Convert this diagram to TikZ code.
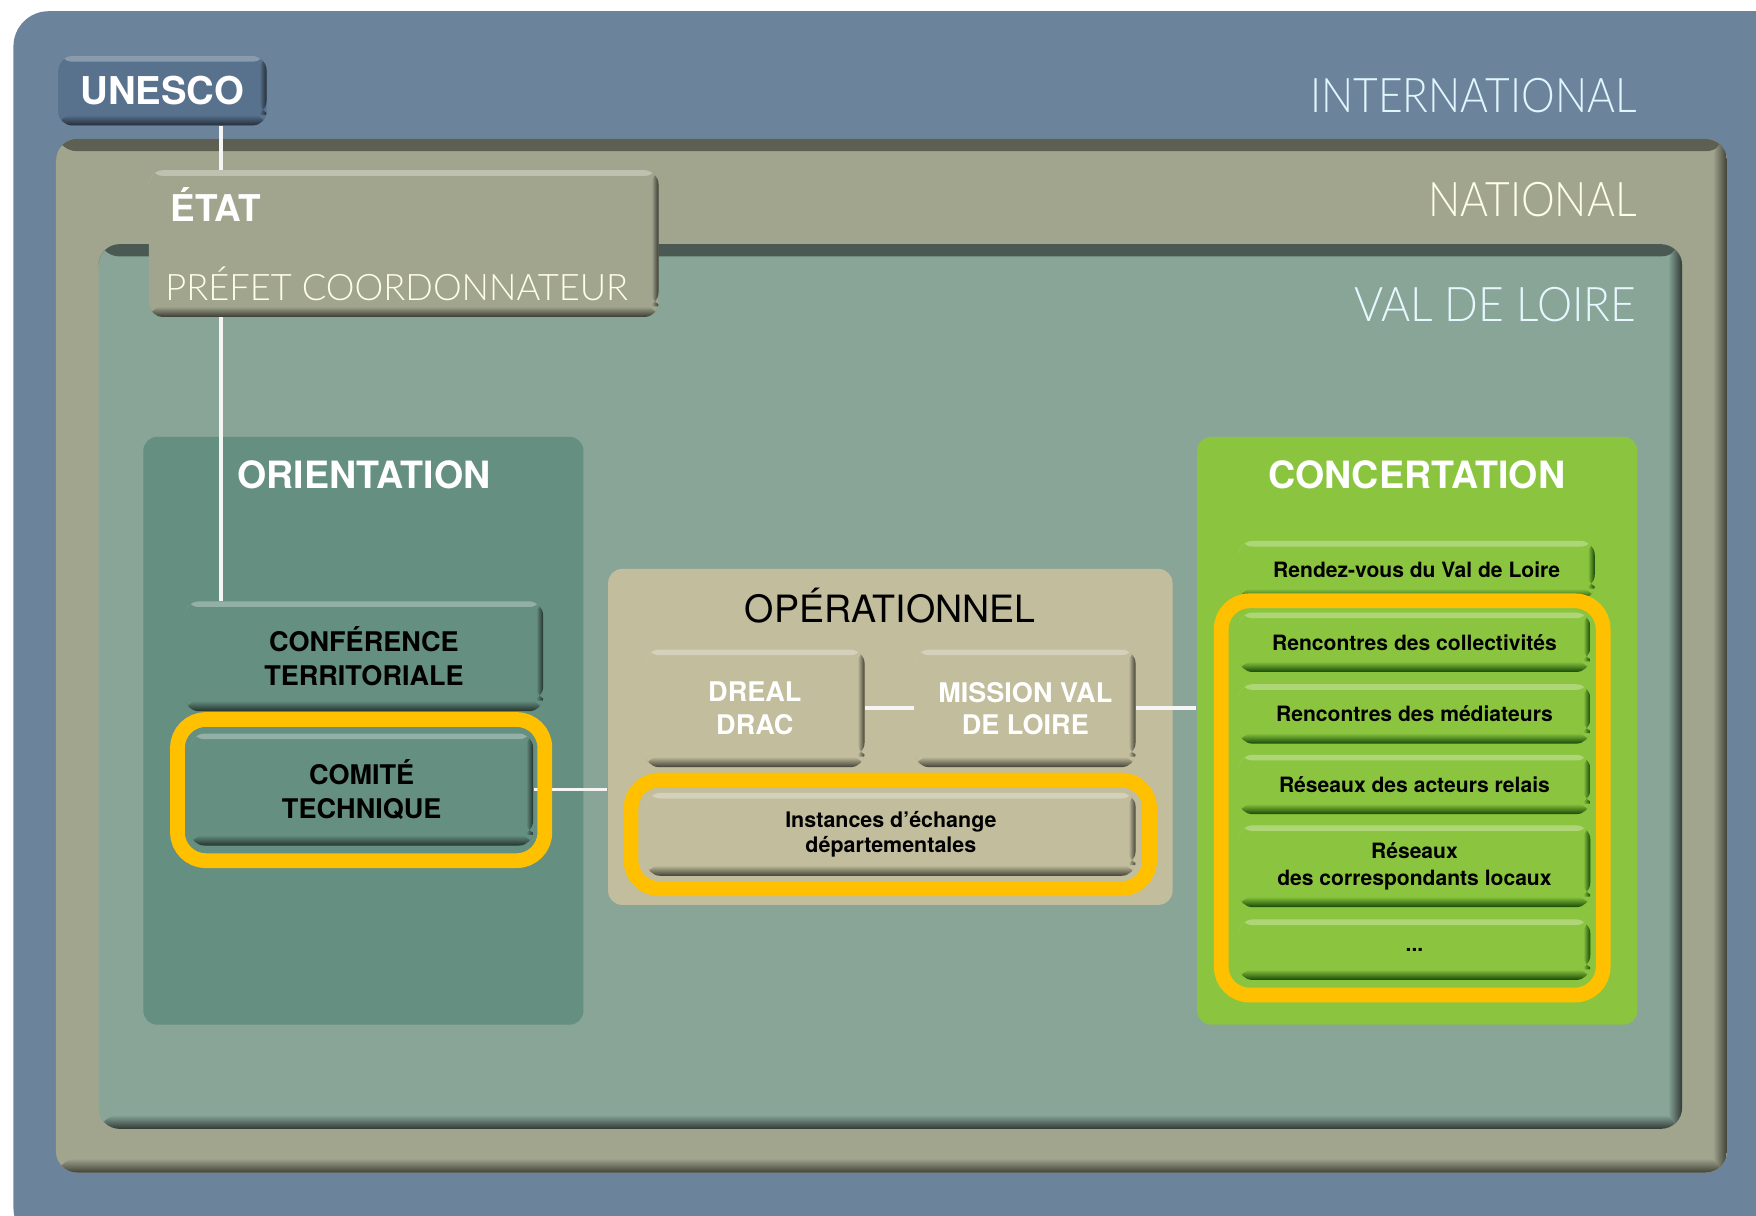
\documentclass[tikz,border=0pt]{standalone}
\usepackage{graphicx}
\usepackage{fontspec}
\setmainfont{TeX Gyre Heros}
\IfFontExistsTF{Lato Light}{\newfontfamily\thinfont{Lato Light}}{\newfontfamily\thinfont{TeX Gyre Heros}}

\definecolor{intlblue}{RGB}{107,132,156}
\definecolor{unescoblue}{RGB}{88,113,140}
\definecolor{natkhaki}{RGB}{162,165,142}
\definecolor{loiregreen}{RGB}{136,165,152}
\definecolor{orientteal}{RGB}{101,143,128}
\definecolor{opertan}{RGB}{194,189,156}
\definecolor{concgreen}{RGB}{139,197,64}
\definecolor{greendark}{RGB}{22,72,4}
\definecolor{hlyellow}{RGB}{255,192,0}

\begin{document}
\begin{tikzpicture}[x=0.0112cm, y=-0.0112cm,
	frame/.style 2 args={fill=#1, rounded corners=6pt, path picture={
		\shade[top color=#2, bottom color=#1, opacity=0.7] (path picture bounding box.north west) rectangle ([yshift=-3.5pt]path picture bounding box.north east);
		\shade[top color=#1, bottom color=#2] ([yshift=4pt]path picture bounding box.south west) rectangle (path picture bounding box.south east);
		\shade[left color=#1, right color=#2] ([xshift=-4pt]path picture bounding box.north east) rectangle (path picture bounding box.south east);}},
	btn/.style 2 args={fill=#1, rounded corners=4pt, inner sep=0pt, align=center, path picture={
		\fill[white, opacity=0.3] (path picture bounding box.north west) rectangle ([yshift=-1.6pt]path picture bounding box.north east);
		\shade[top color=#1, bottom color=#2] ([yshift=3pt]path picture bounding box.south west) rectangle (path picture bounding box.south east);
		\shade[left color=#1, right color=#2] ([xshift=-2pt]path picture bounding box.north east) rectangle ([yshift=3pt]path picture bounding box.south east);}},
	panel/.style={rounded corners=4pt, inner sep=0pt},
	tealbtn/.style={btn={orientteal}{orientteal!35!black}, font=\bfseries\fontsize{7.7}{9.9}\selectfont},
	tanbtn/.style={btn={opertan}{opertan!35!black}, font=\bfseries\fontsize{7.7}{9.2}\selectfont},
	greenbtn/.style={btn={concgreen}{greendark}, font=\bfseries\fontsize{6}{7.6}\selectfont,
		minimum width=3.517cm, minimum height=0.594cm},
	hl/.style={draw=hlyellow, line width=4.2pt, rounded corners=8pt},
	link/.style={draw=white!92!gray, line width=1.1pt},
	level/.style={font=\thinfont\fontsize{13.6}{16}\selectfont, anchor=east, inner sep=0pt},
	title/.style={font=\bfseries\fontsize{10.7}{13}\selectfont, text=white, inner sep=0pt}]
	\useasboundingbox (0,0) rectangle (1568,1085);
	\clip (0,0) rectangle (1568,1085);
	%Cadres
	\fill[intlblue, rounded corners=10pt] (12,10) rectangle (1600,1110);
	\fill[frame={natkhaki}{natkhaki!40!black}] (50,124) rectangle (1542,1047);
	\fill[frame={loiregreen}{loiregreen!35!black}] (88,218) rectangle (1502,1008);
	\node[level, text=white!88!cyan] (intl) at (1462,85) {\resizebox{92.8pt}{\height}{INTERNATIONAL}};
	\node[level, text=white!90!yellow] (nat) at (1462,178) {\resizebox{59.3pt}{\height}{NATIONAL}};
	\node[level, text=white!90!cyan] (loire) at (1462,272) {\resizebox{80.3pt}{\height}{VAL DE LOIRE}};
	%Panneaux
	\node[panel, fill=orientteal, minimum width=4.402cm, minimum height=5.88cm] (orient) at (324.5,652.5) {};
	\node[panel, fill=opertan, minimum width=5.645cm, minimum height=3.36cm] (oper) at (795,658) {};
	\node[panel, fill=concgreen, minimum width=4.402cm, minimum height=5.88cm] (concert) at (1265.5,652.5) {};
	\node[title] (orientlbl) at (325,424) {ORIENTATION};
	\node[inner sep=0pt, font=\fontsize{10.7}{13}\selectfont] (operlbl) at (795,541) {OPÉRATIONNEL};
	\node[title] (concertlbl) at (1265,424) {CONCERTATION};
	%Orientation
	\node[btn={unescoblue}{unescoblue!40!black}, text=white, font=\bfseries\fontsize{10.9}{13}\selectfont,
		minimum width=2.083cm, minimum height=0.694cm] (unesco) at (145,81) {UNESCO};
	\node[tealbtn, minimum width=3.584cm, minimum height=1.098cm] (conf) at (325,586) {CONFÉRENCE\\TERRITORIALE};
	\node[tealbtn, minimum width=3.427cm, minimum height=1.12cm] (comite) at (323,705) {COMITÉ\\TECHNIQUE};
	\draw[link] ([xshift=5.82mm]unesco.south) -- ([xshift=5.82mm]unesco.south |- conf.north);
	\node[btn={natkhaki}{natkhaki!35!black}, minimum width=5.096cm, minimum height=1.467cm] (etat) at (360.5,217.5) {};
	\node[anchor=west, inner sep=0pt, text=white, font=\bfseries\fontsize{10.5}{13}\selectfont] (etatlbl) at (152,183) {ÉTAT};
	\node[anchor=west, inner sep=0pt, text=white!90!yellow, font=\thinfont\fontsize{10.4}{13}\selectfont] (prefet) at (147,253) {\resizebox{131.7pt}{\height}{PRÉFET COORDONNATEUR}};
	%Operationnel
	\node[tanbtn, text=white, minimum width=2.195cm, minimum height=1.176cm] (dreal) at (674,632.5) {DREAL\\DRAC};
	\node[tanbtn, text=white, minimum width=2.206cm, minimum height=1.176cm] (mission) at (915.5,632.5) {MISSION VAL\\DE LOIRE};
	\node[tanbtn, font=\bfseries\fontsize{6.1}{7.3}\selectfont, minimum width=4.894cm, minimum height=0.829cm] (inst) at (795.5,745) {Instances d’échange\\départementales};
	%Concertation
	\node[greenbtn, minimum width=3.562cm, minimum height=0.582cm] (rdv) at (1265,509) {Rendez-vous du Val de Loire};
	\foreach \y/\txt/\nm in {573.5/Rencontres des collectivités/coll, 637.5/Rencontres des médiateurs/med, 700.5/Réseaux des acteurs relais/acteurs}
	{\node[greenbtn] (\nm) at (1263,\y) {\txt};}
	\node[greenbtn, minimum height=0.818cm] (corresp) at (1263,773.5) {Réseaux\\des correspondants locaux};
	\node[greenbtn, minimum height=0.605cm] (etc) at (1263,848) {...};
	%Liens
	\draw[link] (comite.east) -- (comite.east -| oper.west);
	\draw[link] (dreal) -- (mission);
	\draw[link] (mission.east) -- (mission.east -| concert.west);
	%Surlignage
	\draw[hl] (158.5,642.5) rectangle (486.5,768.5);
	\draw[hl] (563.5,696.5) rectangle (1026.5,793.5);
	\draw[hl] (1090.5,536.5) rectangle (1431.5,888.5);
\end{tikzpicture}
\end{document}
